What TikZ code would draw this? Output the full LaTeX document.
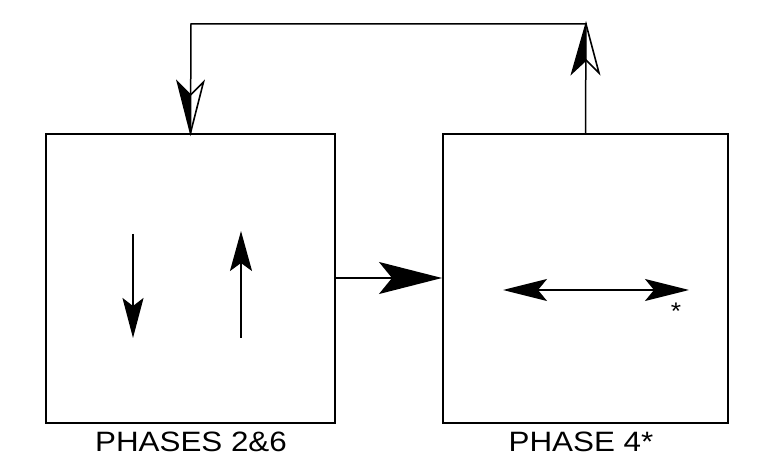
\documentclass[tikz,border=0pt]{standalone}
\usepackage{fontspec}
\setmainfont{Liberation Sans}
\usetikzlibrary{arrows.meta}
\begin{document}
\begin{tikzpicture}[x=1pt,y=-1pt,
  phasebox/.style={draw,line width=2pt,minimum width=289pt,minimum height=289pt,inner sep=0pt},
  shaft/.style={line width=2pt},
  label/.style={anchor=base,inner sep=0pt,font=\fontsize{28}{32}\selectfont},
  loopline/.style={line width=1.5pt},
  halfhead/.style={line width=1.6pt,line join=miter}]
\useasboundingbox (0,0) rectangle (766,454);
\node[phasebox] (A) at (190.5,278.5) {};
\node[phasebox,minimum width=285pt] (B) at (585.5,278.5) {};
\node[label] (LA) at (191,451.3) {\scalebox{1.12}[1]{PHASES 2\&6}};
\node[label] (LB) at (581,451.3) {\scalebox{1.12}[1]{PHASE 4*}};
\node[anchor=base,inner sep=0pt,font=\fontsize{24}{26}\selectfont] (star) at (676,320) {\scalebox{1.1}[1]{*}};
% arrows inside left box
\coordinate (d1) at (133,234); \coordinate (d2) at (133,338);
\coordinate (u1) at (241,338); \coordinate (u2) at (241,231);
\draw[shaft,-{Stealth[length=40pt,width=21pt,inset=8pt]}] (d1) -- (d2);
\draw[shaft,-{Stealth[length=40pt,width=22pt,inset=8pt]}] (u1) -- (u2);
% main arrow
\draw[loopline,-{Stealth[length=63pt,width=32pt,inset=13pt]}] (A.east |- 0,278) -- (B.west |- 0,278);
% double arrow
\coordinate (h1) at (503,290); \coordinate (h2) at (689,290);
\draw[shaft,{Stealth[length=44pt,width=22pt,inset=9pt]}-{Stealth[length=44pt,width=22pt,inset=9pt]}] (h1) -- (h2);
% feedback loop
\coordinate (tr) at (586,24); \coordinate (tl) at (191,24);
\draw[loopline] (B.north) -- (tr) -- (tl) -- (A.north);
% half-filled heads
\begin{scope}[shift={(tr)}]
  \fill (0,0) -- (-14,49) -- (0,36) -- cycle;
  \draw[halfhead] (0,0) -- (-14,49) -- (0,36) -- (13,49) -- cycle;
\end{scope}
\begin{scope}[shift={(A.north)}]
  \fill (0,0) -- (-13,-51) -- (0,-38) -- cycle;
  \draw[halfhead] (0,0) -- (-13,-51) -- (0,-38) -- (13,-51) -- cycle;
\end{scope}
\end{tikzpicture}
\end{document}
